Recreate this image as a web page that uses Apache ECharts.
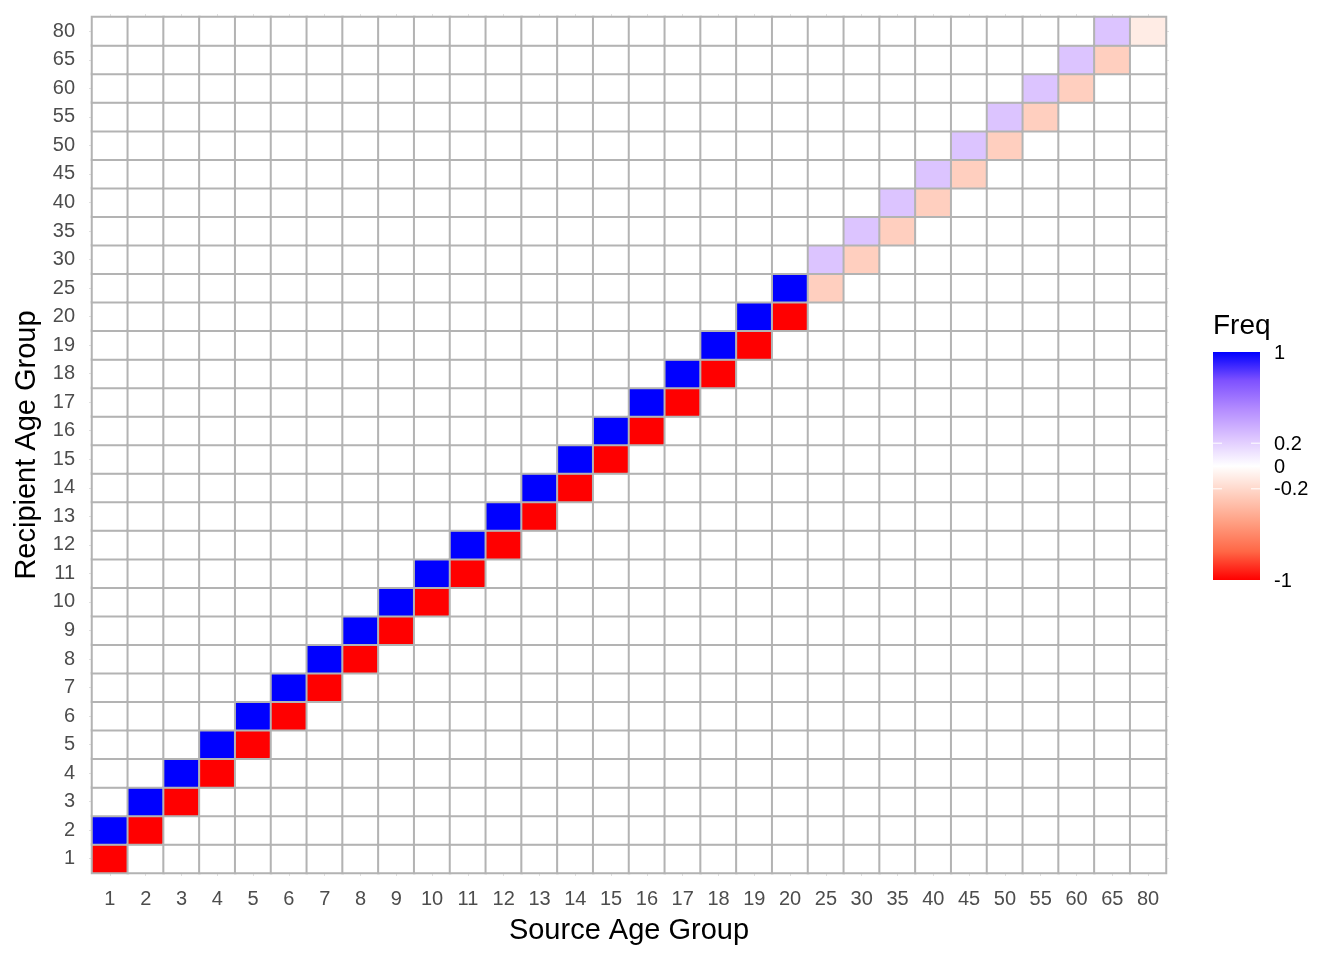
<!DOCTYPE html>
<html>
<head>
<meta charset="utf-8">
<script src="https://cdn.jsdelivr.net/npm/echarts@6/dist/echarts.min.js"></script>
<style>html,body{margin:0;padding:0;background:#fff}#c{width:1344px;height:960px}</style>
</head>
<body>
<div id="c"></div>
<script>
// Age group categories (both axes)
const ageGroups = ['1','2','3','4','5','6','7','8','9','10','11','12','13','14','15','16','17','18','19','20','25','30','35','40','45','50','55','60','65','80'];
// Freq where recipient group == source group (diagonal)
const diagonalFreq = [-1,-1,-1,-1,-1,-1,-1,-1,-1,-1,-1,-1,-1,-1,-1,-1,-1,-1,-1,-1,-0.25,-0.25,-0.25,-0.25,-0.25,-0.25,-0.25,-0.25,-0.25,-0.1];
// Freq where recipient group is the next group after the source group
const nextGroupFreq = [1,1,1,1,1,1,1,1,1,1,1,1,1,1,1,1,1,1,1,1,0.25,0.25,0.25,0.25,0.25,0.25,0.25,0.25,0.25];
// Legend tick labels
const legendTicks = [1, 0.2, 0, -0.2, -1];

const n = ageGroups.length;
const data = [];
for (let s = 0; s < n; s++) {
  for (let r = 0; r < n; r++) {
    let v = 0;
    if (r === s) v = diagonalFreq[s];
    else if (r === s + 1) v = nextGroupFreq[s];
    data.push([s, r, v]);
  }
}

const FONT = 'Liberation Sans, Arial, Helvetica, sans-serif';
const colorStops = ['#FF0000','#FF6746','#FF9E81','#FFCFBF','#FFFFFF','#DCC4FF','#B38BFF','#7E51FF','#0000FF'];

const chart = echarts.init(document.getElementById('c'));

// Legend colour bar geometry
const barX = 1213, barY = 352, barW = 47, barH = 228;
const gradStops = colorStops.map((c, i) => ({offset: 1 - i / (colorStops.length - 1), color: c}));
const graphics = [
  {type: 'text', left: barX, top: 312, style: {text: 'Freq', font: '28px ' + FONT, fill: '#000'}},
  {type: 'rect', shape: {x: barX, y: barY, width: barW, height: barH},
   style: {fill: new echarts.graphic.LinearGradient(0, 0, 0, 1, gradStops)}}
];
legendTicks.forEach(t => {
  const y = barY + (1 - t) / 2 * barH;
  graphics.push({type: 'text', x: barX + barW + 14, y: y + 1,
    style: {text: String(t), font: '20px ' + FONT, fill: '#000', textVerticalAlign: 'middle', textAlign: 'left'}});
  if (t !== 1 && t !== -1) {
    graphics.push({type: 'line', shape: {x1: barX, y1: y, x2: barX + 9, y2: y}, style: {stroke: '#fff', lineWidth: 1}});
    graphics.push({type: 'line', shape: {x1: barX + barW - 9, y1: y, x2: barX + barW, y2: y}, style: {stroke: '#fff', lineWidth: 1}});
  }
});

const faintTick = {show: true, alignWithLabel: true, length: 3, lineStyle: {color: '#E0E0E0', width: 1}};

chart.setOption({
  animation: false,
  backgroundColor: '#fff',
  grid: {left: 92, right: 178, top: 17, bottom: 87},
  xAxis: [{
    type: 'category', data: ageGroups, position: 'bottom',
    name: 'Source Age Group', nameLocation: 'middle', nameGap: 43,
    nameTextStyle: {fontSize: 29, color: '#000', fontFamily: FONT},
    axisLine: {show: false}, axisTick: faintTick, splitLine: {show: false},
    axisLabel: {fontSize: 20, color: '#4D4D4D', fontFamily: FONT, margin: 16, interval: 0}
  }, {
    type: 'category', data: ageGroups, position: 'top',
    axisLine: {show: false}, axisTick: faintTick, axisLabel: {show: false}, splitLine: {show: false}
  }],
  yAxis: [{
    type: 'category', data: ageGroups, position: 'left',
    name: 'Recipient Age Group', nameLocation: 'middle', nameGap: 51,
    nameTextStyle: {fontSize: 29, color: '#000', fontFamily: FONT},
    axisLine: {show: false}, axisTick: faintTick, splitLine: {show: false},
    axisLabel: {fontSize: 20, color: '#4D4D4D', fontFamily: FONT, margin: 17, interval: 0, padding: [5, 0, 0, 0]}
  }, {
    type: 'category', data: ageGroups, position: 'right',
    axisLine: {show: false}, axisTick: faintTick, axisLabel: {show: false}, splitLine: {show: false}
  }],
  visualMap: {
    show: false, type: 'continuous', min: -1, max: 1, dimension: 2, seriesIndex: 0,
    inRange: {color: colorStops}
  },
  graphic: graphics,
  series: [{
    type: 'heatmap', data: data, xAxisIndex: 0, yAxisIndex: 0,
    itemStyle: {borderColor: '#B3B3B3', borderWidth: 2},
    emphasis: {disabled: true}
  }]
});
</script>
</body>
</html>
